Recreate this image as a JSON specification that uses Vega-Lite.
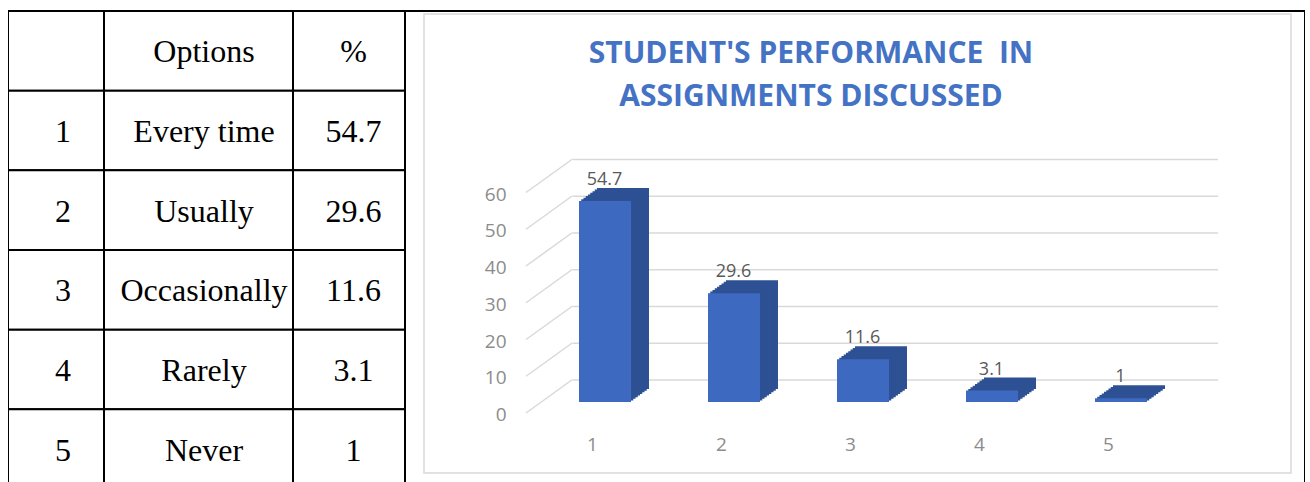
{
  "$schema": "https://vega.github.io/schema/vega-lite/v6.json",
  "background": "white",
  "padding": {"left": 8, "top": 10, "right": 5, "bottom": 0},
  "spacing": 0,
  "config": {"view": {"stroke": null}, "concat": {"spacing": 0}},
  "datasets": {
    "table": [
      {"r": "0", "no": "", "option": "Options", "pct": "%"},
      {"r": "1", "no": "1", "option": "Every time", "pct": "54.7"},
      {"r": "2", "no": "2", "option": "Usually", "pct": "29.6"},
      {"r": "3", "no": "3", "option": "Occasionally", "pct": "11.6"},
      {"r": "4", "no": "4", "option": "Rarely", "pct": "3.1"},
      {"r": "5", "no": "5", "option": "Never", "pct": "1"}
    ],
    "bars": [
      {"no": 1, "pct": 54.7},
      {"no": 2, "pct": 29.6},
      {"no": 3, "pct": 11.6},
      {"no": 4, "pct": 3.1},
      {"no": 5, "pct": 1}
    ],
    "ticks": [{"v": 0}, {"v": 10}, {"v": 20}, {"v": 30}, {"v": 40}, {"v": 50}, {"v": 60}],
    "frame": [{"c": "a"}]
  },
  "hconcat": [
    {
      "width": 96, "height": 472,
      "data": {"name": "table"},
      "layer": [
        {"mark": {"type": "rect", "fill": "white", "stroke": "black", "strokeWidth": 2, "clip": true},
         "encoding": {"y": {"field": "r", "type": "ordinal", "axis": null, "scale": {"type": "band", "range": [1, 479], "paddingInner": 0, "paddingOuter": 0}}}},
        {"mark": {"type": "text", "font": "Liberation Serif", "fontSize": 32, "baseline": "alphabetic", "dy": 11.5, "dx": 7, "color": "black"},
         "encoding": {"y": {"field": "r", "type": "ordinal", "axis": null, "scale": {"type": "band"}}, "text": {"field": "no"}}}
      ]
    },
    {
      "width": 189, "height": 472,
      "data": {"name": "table"},
      "layer": [
        {"mark": {"type": "rect", "fill": "white", "stroke": "black", "strokeWidth": 2, "clip": true},
         "encoding": {"y": {"field": "r", "type": "ordinal", "axis": null, "scale": {"type": "band", "range": [1, 479], "paddingInner": 0, "paddingOuter": 0}}}},
        {"mark": {"type": "text", "font": "Liberation Serif", "fontSize": 32, "baseline": "alphabetic", "dy": 11.5, "dx": 5.5, "color": "black"},
         "encoding": {"y": {"field": "r", "type": "ordinal", "axis": null, "scale": {"type": "band"}}, "text": {"field": "option"}}}
      ]
    },
    {
      "width": 112, "height": 472,
      "data": {"name": "table"},
      "layer": [
        {"mark": {"type": "rect", "fill": "white", "stroke": "black", "strokeWidth": 2, "clip": true},
         "encoding": {"y": {"field": "r", "type": "ordinal", "axis": null, "scale": {"type": "band", "range": [1, 479], "paddingInner": 0, "paddingOuter": 0}}}},
        {"mark": {"type": "text", "font": "Liberation Serif", "fontSize": 32, "baseline": "alphabetic", "dy": 11.5, "dx": 4.5, "color": "black"},
         "encoding": {"y": {"field": "r", "type": "ordinal", "axis": null, "scale": {"type": "band"}}, "text": {"field": "pct"}}}
      ]
    },
    {
      "width": 900, "height": 472,
      "resolve": {"scale": {"x": "independent", "y": "independent"}},
      "layer": [
        {
          "data": {"name": "frame"},
          "mark": {"type": "rect", "fill": "white", "stroke": "black", "strokeWidth": 2, "clip": true},
          "encoding": {"y": {"field": "c", "type": "nominal", "axis": null, "scale": {"type": "band", "range": [1, 479], "paddingInner": 0, "paddingOuter": 0}}}
        },
        {
          "data": {"name": "frame"},
          "encoding": {
            "x": {"field": "c", "type": "nominal", "axis": null, "scale": {"type": "band", "range": [19, 886], "paddingInner": 0, "paddingOuter": 0}},
            "y": {"field": "c", "type": "nominal", "axis": null, "scale": {"type": "band", "range": [4, 463], "paddingInner": 0, "paddingOuter": 0}}
          },
          "layer": [
            {"mark": {"type": "rect", "fill": "white", "stroke": "#d9d9d9", "strokeWidth": 1.5}},
            {"mark": {"type": "text", "font": "Open Sans", "fontSize": 30, "fontWeight": "bold", "color": "#4472C4", "lineHeight": 43, "align": "center", "baseline": "alphabetic", "dx": -46.5, "dy": 49},
             "encoding": {
               "y": {"field": "c", "type": "nominal", "bandPosition": 0},
               "text": {"value": ["STUDENT'S PERFORMANCE\u00a0 IN", "ASSIGNMENTS DISCUSSED"]}
             }}
          ]
        },
        {
          "data": {"name": "bars"},
          "layer": [
            {
              "data": {"name": "ticks"},
              "mark": {"type": "rule", "color": "#d9d9d9", "strokeWidth": 1.5, "yOffset": -22, "xOffset": 45.5, "x2Offset": 45.5},
              "encoding": {
                "x": {"datum": 0.5, "type": "quantitative", "scale": {"domain": [0.5, 5.5], "range": [122.5, 767.5], "padding": 0, "nice": false, "zero": false}},
                "x2": {"datum": 5.5},
                "y": {"field": "v", "type": "quantitative", "scale": {"domain": [0, 60], "range": [392, 171.5], "padding": 0, "nice": false}}
              }
            },
            {
              "data": {"name": "ticks"},
              "mark": {"type": "rule", "color": "#d9d9d9", "strokeWidth": 1.5, "xOffset": -1.5, "x2Offset": 45, "yOffset": 11, "y2Offset": -22.5},
              "encoding": {
                "x": {"datum": 0.5, "type": "quantitative"},
                "x2": {"datum": 0.5},
                "y": {"field": "v", "type": "quantitative"},
                "y2": {"field": "v"}
              }
            },
            {"mark": {"type": "bar", "orient": "vertical", "color": "#2D5193", "width": 52, "xOffset": 31, "yOffset": -13, "y2Offset": -13},
             "encoding": {"x": {"field": "no", "type": "quantitative"}, "y": {"field": "pct", "type": "quantitative"}, "y2": {"datum": 0}}},
            {"mark": {"type": "bar", "orient": "vertical", "color": "#2D5193", "width": 52, "xOffset": 28.75, "yOffset": -11.375, "y2Offset": -11.375},
             "encoding": {"x": {"field": "no", "type": "quantitative"}, "y": {"field": "pct", "type": "quantitative"}, "y2": {"datum": 0}}},
            {"mark": {"type": "bar", "orient": "vertical", "color": "#2D5193", "width": 52, "xOffset": 26.5, "yOffset": -9.75, "y2Offset": -9.75},
             "encoding": {"x": {"field": "no", "type": "quantitative"}, "y": {"field": "pct", "type": "quantitative"}, "y2": {"datum": 0}}},
            {"mark": {"type": "bar", "orient": "vertical", "color": "#2D5193", "width": 52, "xOffset": 24.25, "yOffset": -8.125, "y2Offset": -8.125},
             "encoding": {"x": {"field": "no", "type": "quantitative"}, "y": {"field": "pct", "type": "quantitative"}, "y2": {"datum": 0}}},
            {"mark": {"type": "bar", "orient": "vertical", "color": "#2D5193", "width": 52, "xOffset": 22, "yOffset": -6.5, "y2Offset": -6.5},
             "encoding": {"x": {"field": "no", "type": "quantitative"}, "y": {"field": "pct", "type": "quantitative"}, "y2": {"datum": 0}}},
            {"mark": {"type": "bar", "orient": "vertical", "color": "#2D5193", "width": 52, "xOffset": 19.75, "yOffset": -4.875, "y2Offset": -4.875},
             "encoding": {"x": {"field": "no", "type": "quantitative"}, "y": {"field": "pct", "type": "quantitative"}, "y2": {"datum": 0}}},
            {"mark": {"type": "bar", "orient": "vertical", "color": "#2D5193", "width": 52, "xOffset": 17.5, "yOffset": -3.25, "y2Offset": -3.25},
             "encoding": {"x": {"field": "no", "type": "quantitative"}, "y": {"field": "pct", "type": "quantitative"}, "y2": {"datum": 0}}},
            {"mark": {"type": "bar", "orient": "vertical", "color": "#2D5193", "width": 52, "xOffset": 15.25, "yOffset": -1.625, "y2Offset": -1.625},
             "encoding": {"x": {"field": "no", "type": "quantitative"}, "y": {"field": "pct", "type": "quantitative"}, "y2": {"datum": 0}}},
            {
              "mark": {"type": "bar", "orient": "vertical", "color": "#3D69C0", "width": 52, "xOffset": 13},
              "encoding": {
                "x": {"field": "no", "type": "quantitative",
                  "axis": {"orient": "bottom", "zindex": 2, "values": [1, 2, 3, 4, 5], "format": "d", "offset": -47, "domain": false, "ticks": false, "tickSize": 0, "grid": false, "labelPadding": 0, "labelFont": "Open Sans", "labelFontSize": 19, "labelColor": "#8c8c8c", "title": null, "labelFlush": false}},
                "y": {"field": "pct", "type": "quantitative",
                  "axis": {"orient": "left", "zindex": 2, "values": [0, 10, 20, 30, 40, 50, 60], "offset": -101, "domain": false, "ticks": false, "tickSize": 0, "grid": false, "labelPadding": 0, "labelOffset": 12.5, "labelFont": "Open Sans", "labelFontSize": 19, "labelColor": "#8c8c8c", "title": null}},
                "y2": {"datum": 0}
              }
            },
            {
              "mark": {"type": "text", "font": "Open Sans", "fontSize": 18, "color": "#595959", "baseline": "alphabetic", "xOffset": 12.5, "yOffset": -16},
              "encoding": {"x": {"field": "no", "type": "quantitative"}, "y": {"field": "pct", "type": "quantitative"}, "text": {"field": "pct", "type": "quantitative"}}
            }
          ]
        }
      ]
    }
  ]
}
